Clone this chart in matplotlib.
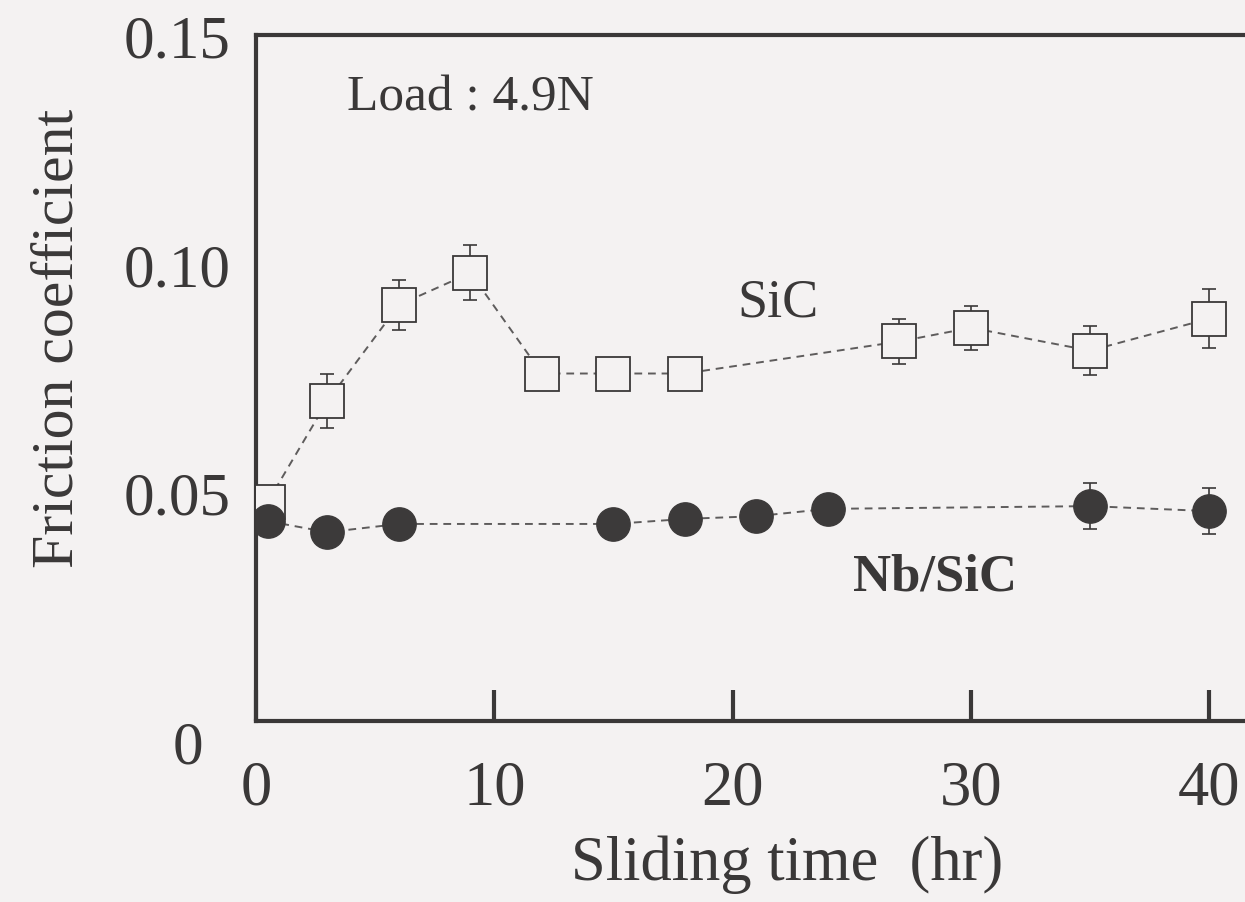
import matplotlib
matplotlib.use("Agg")
import matplotlib.pyplot as plt
import matplotlib.transforms as mtransforms

# ── Data ─────────────────────────────────────────────────────────────────────
sic_time = [0.5, 3, 6, 9, 12, 15, 18, 27, 30, 35, 40]
sic_mu   = [0.048, 0.070, 0.091, 0.098, 0.076, 0.076, 0.076, 0.083, 0.086, 0.081, 0.088]
sic_err  = [0.002, 0.006, 0.0055, 0.006, 0.002, 0.002, 0.002, 0.005, 0.0048, 0.0053, 0.0065]

nb_time = [0.5, 3, 6, 15, 18, 21, 24, 35, 40]
nb_mu   = [0.0437, 0.0413, 0.0431, 0.0431, 0.0442, 0.0448, 0.0464, 0.0470, 0.0459]
nb_err  = [0.002, 0.002, 0.002, 0.002, 0.002, 0.002, 0.002, 0.005, 0.005]

x_ticks = [0, 10, 20, 30, 40]
y_ticks = [0, 0.05, 0.10, 0.15]
y_tick_labels = ["0", "0.05", "0.10", "0.15"]

# ── Style ────────────────────────────────────────────────────────────────────
BG   = "#f4f2f2"
INK  = "#3a3838"
LINE = "#5e5c5c"
plt.rcParams["font.family"] = ["Liberation Serif", "DejaVu Serif"]

fig = plt.figure(figsize=(12.45, 9.03), dpi=100, facecolor=BG)
ax = fig.add_axes([0.2056, 0.2004, 0.7944, 0.7596], facecolor=BG)

# SiC – open squares
ax.errorbar(sic_time, sic_mu, yerr=sic_err, fmt="none", ecolor=INK,
            elinewidth=1.2, capsize=5, capthick=1.2, zorder=2)
ax.plot(sic_time, sic_mu, ls=(0, (4, 3)), lw=1.4, color=LINE, zorder=1)
ax.plot(sic_time, sic_mu, ls="none", marker="s", ms=24, mfc=BG,
        mec=INK, mew=1.3, zorder=3)

# Nb/SiC – filled circles
ax.errorbar(nb_time, nb_mu, yerr=nb_err, fmt="none", ecolor=INK,
            elinewidth=1.2, capsize=5, capthick=1.2, zorder=2)
ax.plot(nb_time, nb_mu, ls=(0, (4, 3)), lw=1.4, color=LINE, zorder=1)
ax.plot(nb_time, nb_mu, ls="none", marker="o", ms=24, mfc="#3c3a3a",
        mec="#3c3a3a", zorder=3)

ax.set_xlim(0, 41.5)
ax.set_ylim(0, 0.15)

for side in ["left", "bottom", "top"]:
    ax.spines[side].set_linewidth(3)
    ax.spines[side].set_color(INK)
ax.spines["right"].set_visible(False)

ax.set_xticks(x_ticks)
ax.set_xticklabels([str(t) for t in x_ticks])
ax.set_yticks(y_ticks)
ax.set_yticklabels(y_tick_labels)
ax.tick_params(axis="x", direction="in", length=22, width=3, color=INK,
               labelsize=45, labelcolor=INK, pad=28)
ax.tick_params(axis="y", length=0, labelsize=44, labelcolor=INK, pad=18)
# only the 0.10 tick is drawn on the y axis
ax.set_yticks([0.10], minor=True)
ax.tick_params(axis="y", which="minor", direction="in", length=22, width=3,
               color=INK)

# the "0" on the y axis sits a little left and below in the original
shift = mtransforms.ScaledTranslation(-28 / 100, -20 / 100, fig.dpi_scale_trans)
zero_lbl = ax.get_yticklabels()[0]
zero_lbl.set_transform(zero_lbl.get_transform() + shift)

ax.text(3.8, 0.1365, "Load : 4.9N", fontsize=37, color=INK, va="center")
ax.text(21.9, 0.0915, "SiC", fontsize=39, color=INK, ha="center", va="center")
ax.text(28.5, 0.0315, "Nb/SiC", fontsize=38, color=INK, ha="center",
        va="center", fontweight="bold")

fig.text(0.047, 0.625, "Friction coefficient", rotation=90, fontsize=43,
         color=INK, ha="center", va="center")
fig.text(0.632, 0.042, "Sliding time  (hr)", fontsize=45, color=INK,
         ha="center", va="center")

fig.savefig("out.png", dpi=100, facecolor=BG)
